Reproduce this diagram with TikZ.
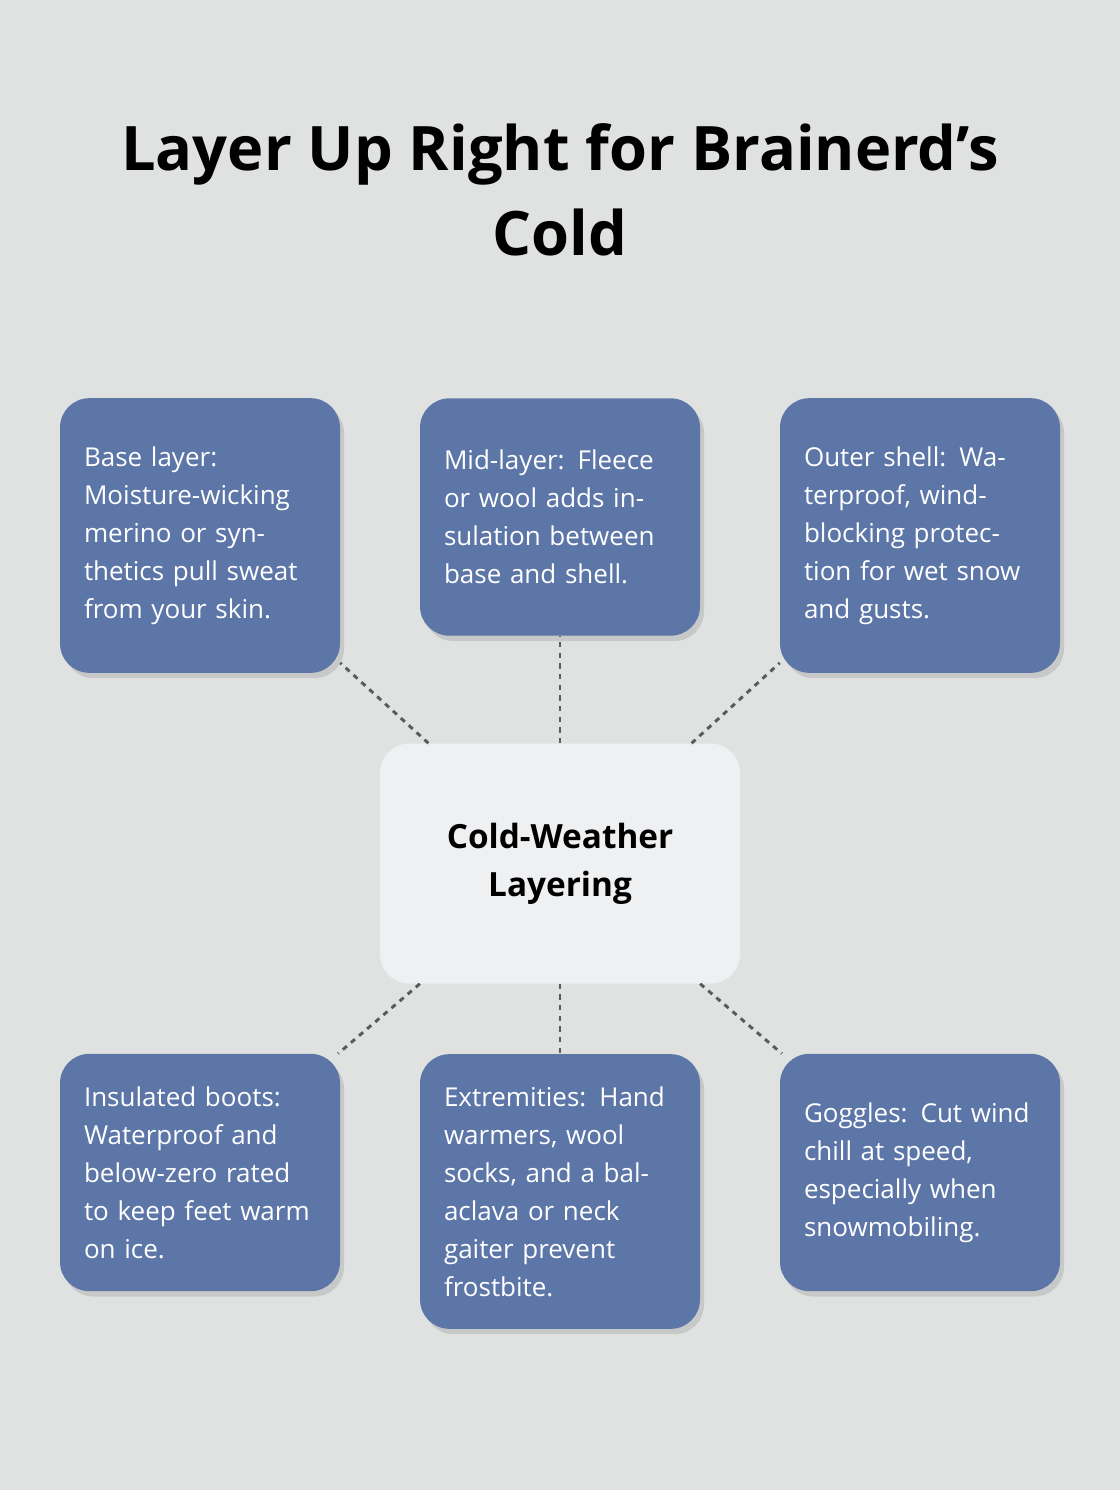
\documentclass[tikz,border=0pt]{standalone}
\usepackage{fontspec}
\setmainfont{Open Sans}
\usetikzlibrary{shadows}
\definecolor{bgcol}{HTML}{E0E2E1}
\definecolor{layerblue}{HTML}{5D76A8}
\definecolor{hubcol}{HTML}{EFF0F2}
\definecolor{linkcol}{HTML}{5A5A5A}

\begin{document}
\begin{tikzpicture}[x=0.75pt,y=-0.75pt,
    layer/.style={draw=none,fill=layerblue,rounded corners=22pt,text=white,
        align=left,text width=174pt,inner sep=0pt,minimum width=210pt,
        font=\fontsize{19.5}{28.5}\selectfont,
        drop shadow={shadow xshift=3pt,shadow yshift=-4pt,opacity=0.25}},
    hub/.style={draw=none,fill=hubcol,rounded corners=22pt,align=center,
        minimum width=270pt,minimum height=180pt,
        font=\fontsize{25}{36}\selectfont\bfseries},
    link/.style={draw=linkcol,line width=2.2pt,dash pattern=on 4pt off 4pt}]
    \fill[bgcol] (0,0) rectangle (1120,1490);
    \useasboundingbox (0,0) rectangle (1120,1490);
    \node[font=\fontsize{46}{64}\selectfont\bfseries,align=center] (title) at (560,190)
        {Layer Up Right for Brainerd’s\\Cold};
    % outer layers
    \node[layer,minimum height=206pt] (base) at (200,535.5)
        {Base layer: Moisture-wicking merino or synthetics pull sweat from your skin.};
    \node[layer,minimum height=178pt] (mid) at (560,517)
        {Mid-layer: Fleece or wool adds insulation between base and shell.};
    \node[layer,minimum height=206pt] (shell) at (920,535.5)
        {Outer shell: Waterproof, wind-blocking protection for wet snow and gusts.};
    \node[layer,minimum height=178pt] (boots) at (200,1172.5)
        {Insulated boots: Waterproof and below-zero rated to keep feet warm on ice.};
    \node[layer,minimum height=206pt] (hands) at (560,1191.5)
        {Extremities: Hand warmers, wool socks, and a balaclava or neck gaiter prevent frostbite.};
    \node[layer,minimum height=178pt] (goggles) at (920,1172.5)
        {Goggles: Cut wind chill at speed, especially when snowmobiling.};
    % centre
    \node[hub] (core) at (560,863.5) {Cold-Weather\\Layering};
    \foreach \n in {base,mid,shell,boots,hands,goggles}
        \draw[link] (core) -- (\n);
\end{tikzpicture}
\end{document}
